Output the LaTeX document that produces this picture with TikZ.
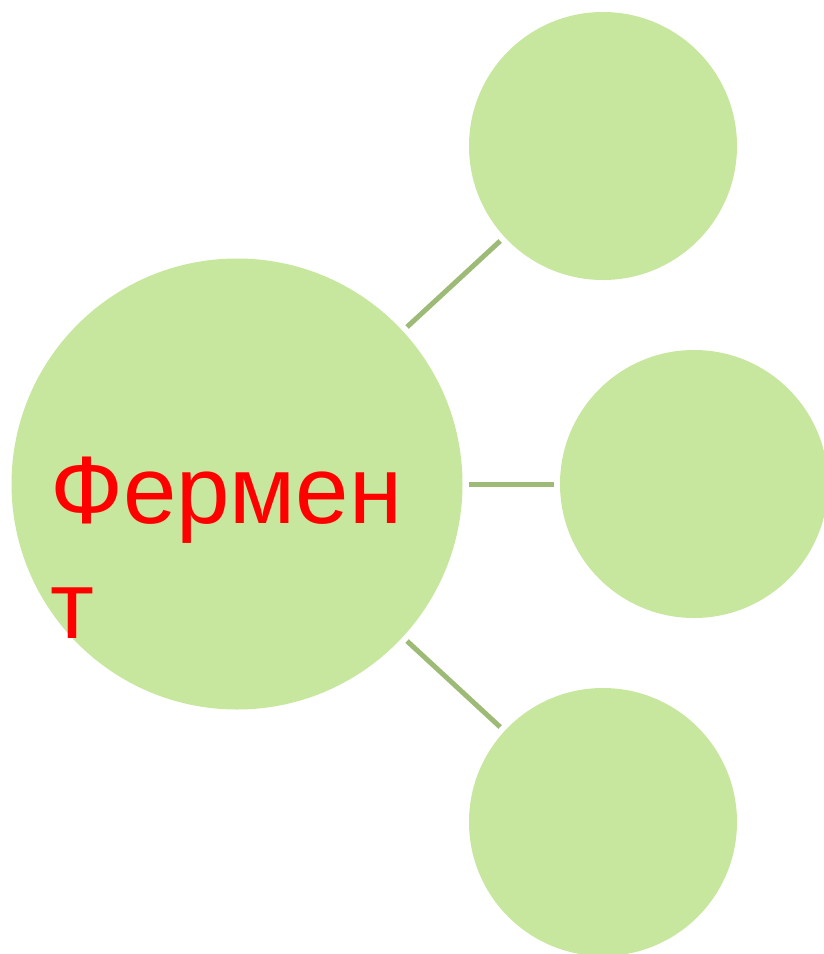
\documentclass[tikz,border=0pt]{standalone}
\usepackage{fontspec}
\setmainfont{Liberation Sans}
\usetikzlibrary{positioning}
\definecolor{leaf}{RGB}{199,230,158}
\definecolor{stem}{RGB}{157,187,118}

\begin{document}
\begin{tikzpicture}[x=1pt, y=-1pt,
  bubble/.style={circle, fill=leaf, inner sep=0pt, outer sep=6pt},
  link/.style={draw=stem, line width=5pt}]
\useasboundingbox (0,0) rectangle (823,954);

% центральный круг
\node[bubble, minimum size=451pt] (enzyme) at (237,484) {};
\node[anchor=base west, inner sep=0pt, align=left, text=red,
  font=\fontsize{96}{115}\selectfont] (label) at (50,638) {Фермен\\т};

% малые круги
\node[bubble, minimum size=268pt] (top) at (603,146) {};
\node[bubble, minimum size=268pt] (mid) at (694,484) {};
\node[bubble, minimum size=268pt] (bottom) at (603,822) {};

% связи
\draw[link] (enzyme) -- (top);
\draw[link] (enzyme) -- (mid);
\draw[link] (enzyme) -- (bottom);
\end{tikzpicture}
\end{document}
